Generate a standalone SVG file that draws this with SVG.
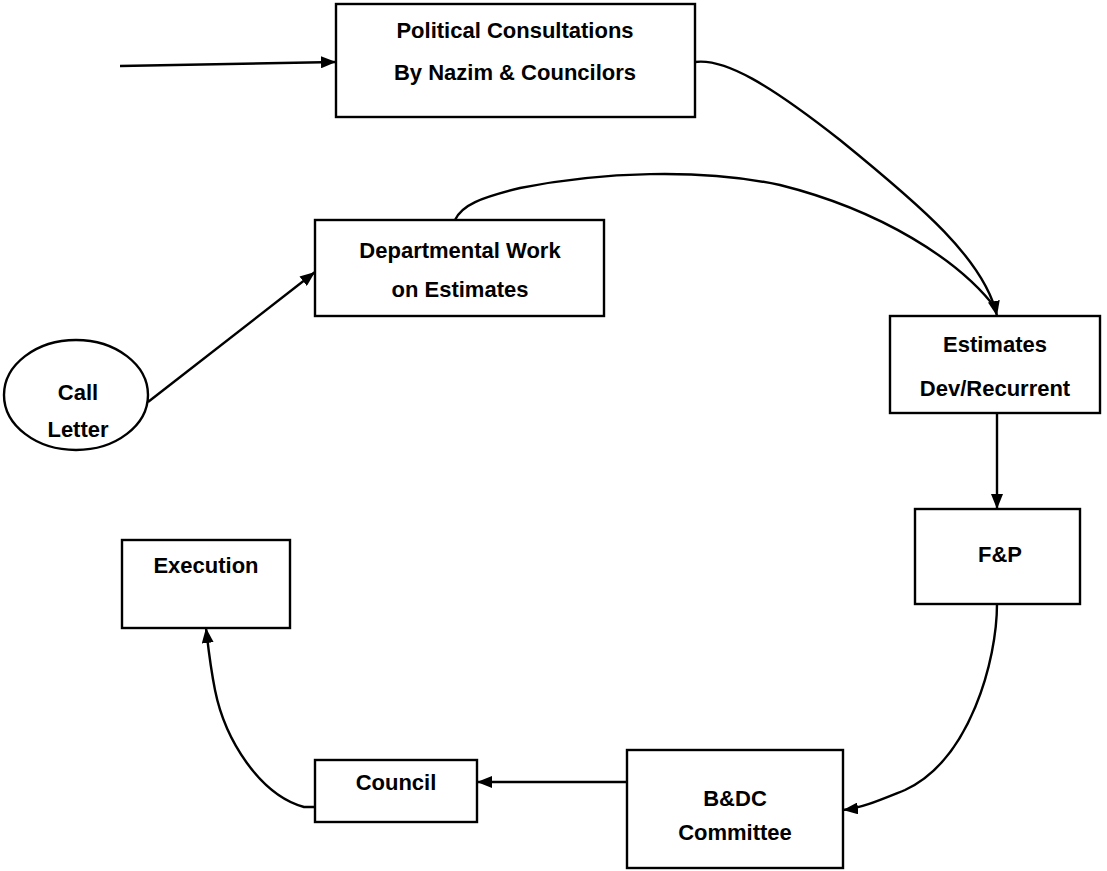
<svg xmlns="http://www.w3.org/2000/svg" width="1107" height="871" viewBox="0 0 1107 871">
<style>
.box{fill:#fff;stroke:#000;stroke-width:2.4}
.t{font-family:"Liberation Sans",Arial,sans-serif;font-size:22px;font-weight:bold;text-anchor:middle;fill:#000}
.c{fill:none;stroke:#000;stroke-width:2.4}
</style>
<defs>
<marker id="ah" viewBox="0 0 15 12" refX="15" refY="6" markerWidth="15" markerHeight="12" markerUnits="userSpaceOnUse" orient="auto">
<path d="M0,0 L15,6 L0,12 Z" fill="#000"/>
</marker>
</defs>
<g id="connectors">
<path class="c" d="M120,66 L336,62" marker-end="url(#ah)"/>
<path class="c" d="M695,62 C725,58 770,85 840,140 C920,205 985,260 997,316" marker-end="url(#ah)"/>
<path class="c" d="M455,220 C462,205 480,198 520,188 C600,172 700,168 780,185 C880,210 960,260 997,310"/>
<path class="c" d="M148,402 L315,272" marker-end="url(#ah)"/>
<path class="c" d="M997,413 L997,509" marker-end="url(#ah)"/>
<path class="c" d="M997,604 C997,660 970,760 905,790 C880,800 862,808 843,810" marker-end="url(#ah)"/>
<path class="c" d="M627,782 L477,782" marker-end="url(#ah)"/>
<path class="c" d="M315,807 L304,807 C260,795 225,740 215,690 C210,665 208,645 206,628" marker-end="url(#ah)"/>
</g>
<g id="political"><rect class="box" x="336" y="4" width="359" height="113"/><text class="t" x="515" y="38">Political Consultations</text><text class="t" x="515" y="80">By Nazim &amp; Councilors</text></g>
<g id="departmental"><rect class="box" x="315" y="220" width="289" height="96"/><text class="t" x="460" y="258">Departmental Work</text><text class="t" x="460" y="297">on Estimates</text></g>
<g id="callletter"><ellipse class="box" cx="76" cy="395" rx="72" ry="55"/><text class="t" x="78" y="400">Call</text><text class="t" x="78" y="437">Letter</text></g>
<g id="estimates"><rect class="box" x="890" y="316" width="210" height="97"/><text class="t" x="995" y="352">Estimates</text><text class="t" x="995" y="396">Dev/Recurrent</text></g>
<g id="fp"><rect class="box" x="915" y="509" width="165" height="95"/><text class="t" x="1000" y="562">F&amp;P</text></g>
<g id="bdc"><rect class="box" x="627" y="750" width="216" height="118"/><text class="t" x="735" y="806">B&amp;DC</text><text class="t" x="735" y="840">Committee</text></g>
<g id="council"><rect class="box" x="315" y="760" width="162" height="62"/><text class="t" x="396" y="790">Council</text></g>
<g id="execution"><rect class="box" x="122" y="540" width="168" height="88"/><text class="t" x="206" y="573">Execution</text></g>
</svg>
